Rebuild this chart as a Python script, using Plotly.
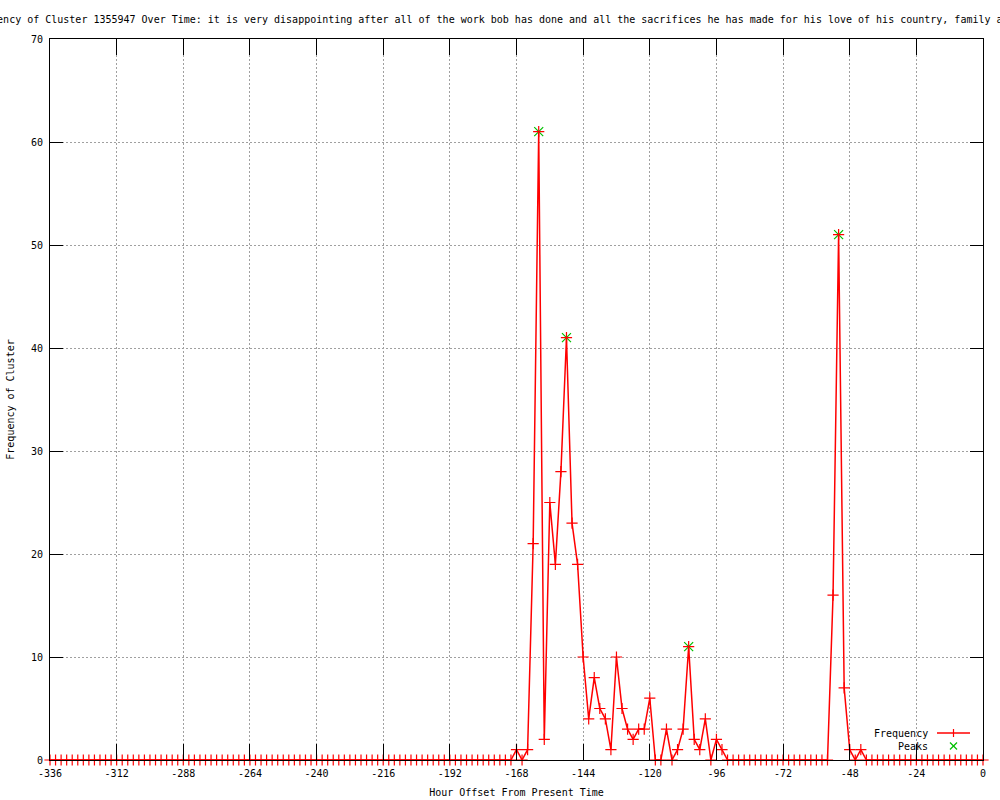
import plotly.graph_objects as go

# ---- data ----
hours = list(range(-336, 1, 2))  # sampling grid, every 2 hours
frequency = [
    # -336 .. -170
    0, 0, 0, 0, 0, 0, 0, 0, 0, 0, 0, 0, 0, 0, 0, 0, 0, 0, 0, 0, 0, 0, 0, 0,
    0, 0, 0, 0, 0, 0, 0, 0, 0, 0, 0, 0, 0, 0, 0, 0, 0, 0, 0, 0, 0, 0, 0, 0,
    0, 0, 0, 0, 0, 0, 0, 0, 0, 0, 0, 0, 0, 0, 0, 0, 0, 0, 0, 0, 0, 0, 0, 0,
    0, 0, 0, 0, 0, 0, 0, 0, 0, 0, 0, 0,
    # -168 .. -94
    1, 0, 1, 21, 61, 2, 25, 19, 28, 41, 23, 19, 10, 4, 8, 5, 4, 1, 10, 5,
    3, 2, 3, 3, 6, 0, 0, 3, 0, 1, 3, 11, 2, 1, 4, 0, 2, 1,
    # -92 .. -56
    0, 0, 0, 0, 0, 0, 0, 0, 0, 0, 0, 0, 0, 0, 0, 0, 0, 0, 0,
    # -54 .. -44
    16, 51, 7, 1, 0, 1,
    # -42 .. 0
    0, 0, 0, 0, 0, 0, 0, 0, 0, 0, 0, 0, 0, 0, 0, 0, 0, 0, 0, 0, 0, 0,
]
peak_hours = [-160, -150, -106, -52]
peak_values = [61, 41, 11, 51]

x_tick_values = [-336, -312, -288, -264, -240, -216, -192, -168, -144, -120, -96, -72, -48, -24, 0]
x_tick_labels = ["-336", "-312", "-288", "-264", "-240", "-216", "-192", "-168",
                 "-144", "-120", "-96", "-72", "-48", "-24", "0"]
y_tick_values = [0, 10, 20, 30, 40, 50, 60, 70]

title_text = ("Frequency of Cluster 1355947 Over Time: it is very disappointing after all of the work "
              "bob has done and all the sacrifices he has made for his love of his country, family a")

FONT = "DejaVu Sans Mono"
RED = "#ff0000"
GREEN = "#00c000"

fig = go.Figure()

fig.add_trace(go.Scatter(
    x=peak_hours, y=peak_values, mode="markers", name="Peaks",
    marker=dict(symbol="x-thin", size=9, line=dict(color=GREEN, width=1.2)),
    showlegend=False, cliponaxis=False,
))
fig.add_trace(go.Scatter(
    x=hours, y=frequency, mode="lines+markers", name="Frequency",
    line=dict(color=RED, width=1.5),
    marker=dict(symbol="cross-thin", size=8, line=dict(color=RED, width=1.2)),
    showlegend=False, cliponaxis=False,
))

axis_common = dict(
    showline=True, linecolor="black", linewidth=1, mirror="allticks",
    ticks="inside", tickcolor="black", tickwidth=1,
    showgrid=True, gridcolor="#a0a0a0", gridwidth=1, griddash="2px,2px",
    zeroline=False, automargin=False,
    tickfont=dict(family=FONT, size=10, color="black"),
)

fig.update_xaxes(
    range=[-336, 0], tickvals=x_tick_values, ticktext=x_tick_labels,
    ticklen=16, ticklabelstandoff=4,
    title=dict(text="Hour Offset From Present Time", font=dict(family=FONT, size=10, color="black"), standoff=10),
    **axis_common,
)
fig.update_yaxes(
    range=[0, 70], tickvals=y_tick_values, ticklen=13, ticklabelstandoff=4,
    title=dict(text="Frequency of Cluster", font=dict(family=FONT, size=10, color="black"), standoff=14),
    **axis_common,
)

# title (wider than the canvas, clipped on both sides as in the reference)
fig.add_annotation(
    text=title_text, xref="paper", yref="paper",
    x=(-35 - 50) / 933, y=(760 - 19) / 721, xanchor="left", yanchor="middle",
    showarrow=False, font=dict(family=FONT, size=10, color="black"),
)

# gnuplot-style legend: text right-aligned, sample on the right
leg_text_x = (930 - 50) / 933
leg_y1 = (760 - 733) / 721
leg_y2 = (760 - 746) / 721
fig.add_annotation(text="Frequency", xref="paper", yref="paper", x=leg_text_x, y=leg_y1,
                   xanchor="right", yanchor="middle", showarrow=False,
                   font=dict(family=FONT, size=10, color="black"))
fig.add_annotation(text="Peaks", xref="paper", yref="paper", x=leg_text_x, y=leg_y2,
                   xanchor="right", yanchor="middle", showarrow=False,
                   font=dict(family=FONT, size=10, color="black"))
sample_cx = (953.5 - 50) / 933
fig.add_shape(type="line", xref="paper", yref="paper",
              x0=(937 - 50) / 933, x1=(970 - 50) / 933, y0=leg_y1, y1=leg_y1,
              line=dict(color=RED, width=1.5))
# red "+"
fig.add_shape(type="line", xref="paper", yref="paper", xsizemode="pixel", ysizemode="pixel",
              xanchor=sample_cx, yanchor=leg_y1, x0=0, x1=0, y0=-4, y1=4,
              line=dict(color=RED, width=1.2))
# green "x"
for (a, b) in [(-3.5, 3.5), (3.5, -3.5)]:
    fig.add_shape(type="line", xref="paper", yref="paper", xsizemode="pixel", ysizemode="pixel",
                  xanchor=sample_cx, yanchor=leg_y2, x0=-3.5, x1=3.5, y0=a, y1=b,
                  line=dict(color=GREEN, width=1.2))

fig.update_layout(
    width=1000, height=800,
    margin=dict(l=50, r=17, t=39, b=40, pad=0),
    plot_bgcolor="white", paper_bgcolor="white",
    font=dict(family=FONT, size=10, color="black"),
    showlegend=False,
)

fig.write_html(
    "out.html",
    config={"displayModeBar": False},
    post_script="document.body.style.margin='0';document.body.style.overflow='hidden';",
)
